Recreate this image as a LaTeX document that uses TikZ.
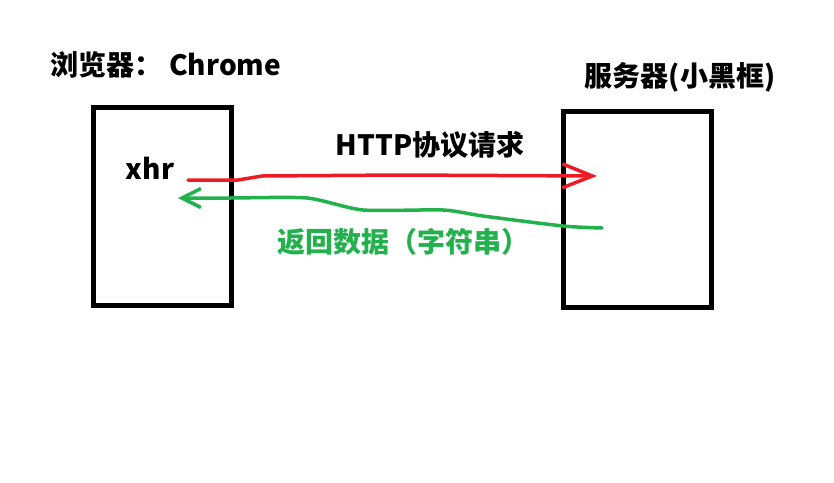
\documentclass[tikz,border=0pt]{standalone}
\usepackage{fontspec}
\setmainfont{Noto Sans CJK SC}
\usetikzlibrary{arrows.meta}
\definecolor{paintred}{HTML}{ED1C24}
\definecolor{paintgreen}{HTML}{22B14C}
\tikzset{
  pagebox/.style={draw=black, line width=5pt, inner sep=0pt},
  caption/.style={inner sep=0pt, font=\fontsize{28}{32}\selectfont\bfseries},
  reqline/.style={draw=paintred, line width=3.5pt, line cap=round, line join=round,
    -{Straight Barb[length=30pt, width=24pt, line width=3.5pt]}},
  respline/.style={draw=paintgreen, line width=3.5pt, line cap=round, line join=round,
    -{Straight Barb[length=19pt, width=19pt, line width=3.5pt]}}
}
\begin{document}
\begin{tikzpicture}[x=1pt, y=-1pt]
        \useasboundingbox[fill=white] (0,0) rectangle (834,482);
        % the two boxes
        \node[pagebox, minimum width=138pt, minimum height=198pt] (browser) at (162.5,206.5) {};
        \node[pagebox, minimum width=148pt, minimum height=196pt] (server) at (637.5,209.5) {};

        % labels
        \node[caption] (browsername) at (166,65) {浏览器： Chrome};
        \node[caption] (servername) at (680,77) {服务器(小黑框)};
        \node[caption] (xhr) at (150,168) {xhr};
        \node[caption] (request) at (430,145) {HTTP协议请求};
        \node[caption, text=paintgreen] (response) at (403,242) {返回数据（字符串）};

        % request and response
        \coordinate (reqstart) at (188,180);
        \coordinate (reqend) at (597,176);
        \coordinate (respstart) at (602,228);
        \coordinate (respend) at (178,198);
        \draw[reqline] (reqstart) -- (238,180) -- (262,176) -- (400,175) -- (reqend);
        \draw[respline] plot[smooth, tension=0.4] coordinates {(respstart) (563,226) (483,216) (443,210) (363,210) (307,198) (230,198) (respend)};

      \end{tikzpicture}
\end{document}
